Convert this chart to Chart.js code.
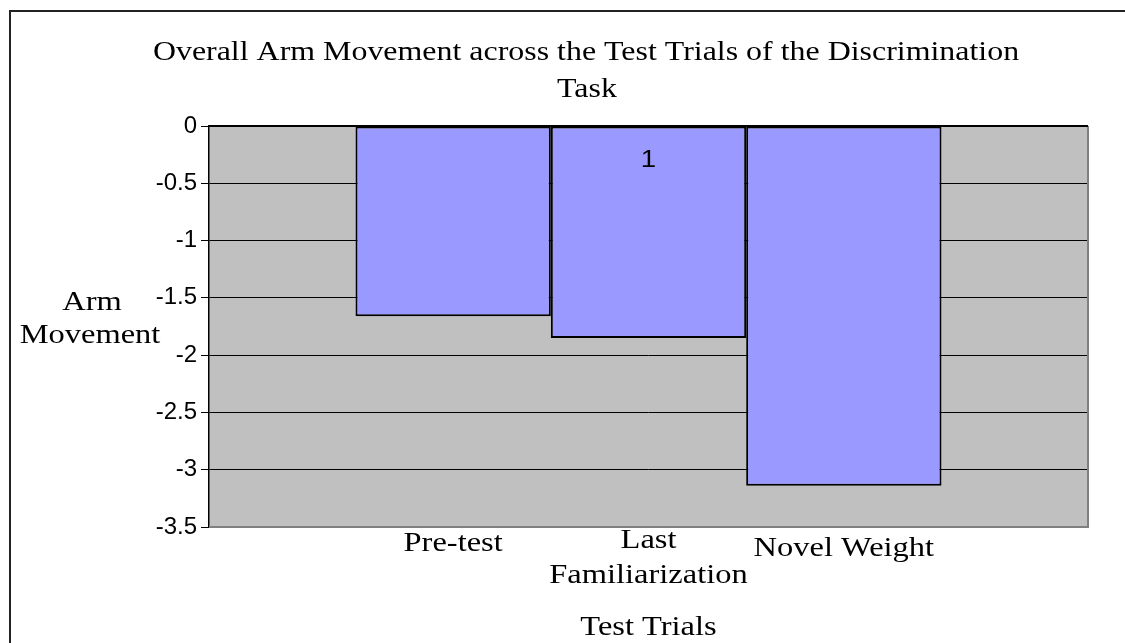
<!DOCTYPE html>
<html>
<head>
<meta charset="utf-8">
<title>Overall Arm Movement</title>
<script src="https://cdn.jsdelivr.net/npm/chart.js@4.4.0/dist/chart.umd.min.js"></script>
<style>
    body { margin: 0; background: #fff; }
    #wrap { width: 1125px; height: 643px; position: relative; }
</style>
</head>
<body>
<div id="wrap"><canvas id="armChart" width="1125" height="643"></canvas></div>
<script>
// data
const categories = ['1'];
const seriesNames = ['Pre-test', 'Last Familiarization', 'Novel Weight'];
const seriesValues = [-1.66, -1.85, -3.14];
const yMin = -3.5;
const yMax = 0;
const yStep = 0.5;

const titleLines = ['Overall Arm Movement across the Test Trials of the Discrimination', 'Task'];
const yTitleLines = ['Arm', 'Movement'];
const xTitle = 'Test Trials';

const serif = '"Liberation Serif", "Times New Roman", serif';
const sans = '"Liberation Sans", Arial, sans-serif';

// draw text slightly widened like the original export
function wideText(ctx, text, x, y, size, sx, family) {
    ctx.save();
    ctx.font = size + 'px ' + (family || serif);
    ctx.fillStyle = '#000';
    ctx.textAlign = 'center';
    ctx.textBaseline = 'alphabetic';
    ctx.translate(x, y);
    ctx.scale(sx, 1);
    ctx.fillText(text, 0, 0);
    ctx.restore();
}

const decorPlugin = {
    id: 'decor',
    beforeDraw(chart) {
        const ctx = chart.ctx;
        const a = chart.chartArea;
        ctx.save();
        ctx.fillStyle = '#fff';
        ctx.fillRect(0, 0, chart.width, chart.height);
        // outer frame (only top and left are visible)
        ctx.strokeStyle = '#222';
        ctx.lineWidth = 2;
        ctx.beginPath();
        ctx.moveTo(chart.width, 11);
        ctx.lineTo(10, 11);
        ctx.lineTo(10, chart.height);
        ctx.stroke();
        // plot area
        ctx.fillStyle = '#C0C0C0';
        ctx.fillRect(a.left, a.top, a.right - a.left, a.bottom - a.top);
        ctx.restore();
    },
    afterDraw(chart) {
        const ctx = chart.ctx;
        const a = chart.chartArea;
        ctx.save();
        ctx.strokeStyle = '#808080';
        ctx.lineWidth = 2;
        ctx.beginPath();
        ctx.moveTo(a.right, a.top);
        ctx.lineTo(a.right, a.bottom);
        ctx.lineTo(a.left, a.bottom);
        ctx.stroke();
        ctx.strokeStyle = '#000';
        ctx.beginPath();
        ctx.moveTo(a.left, a.top);
        ctx.lineTo(a.right, a.top);
        ctx.stroke();
        ctx.restore();

        // title
        wideText(ctx, titleLines[0], 586, 60, 28, 1.14);
        wideText(ctx, titleLines[1], 587, 97, 28, 1.14);

        // y axis title, horizontal
        wideText(ctx, yTitleLines[0], 92, 310, 28, 1.16);
        wideText(ctx, yTitleLines[1], 90, 343, 28, 1.16);

        // category label just under the zero line
        const xs = chart.scales.x;
        wideText(ctx, categories[0], xs.getPixelForValue(0), a.top + 41, 23, 1.2, sans);

        // series names under each bar
        const offsets = [24, 21, 29];
        seriesNames.forEach(function(name, i) {
            const bar = chart.getDatasetMeta(i).data[0];
            const words = name.split(' ');
            const lines = (name.length > 14) ? words : [name];
            lines.forEach(function(line, j) {
                wideText(ctx, line, bar.x, a.bottom + offsets[i] + j * 35, 28, 1.16);
            });
        });

        // x axis title
        wideText(ctx, xTitle, (a.left + a.right) / 2, 635, 28, 1.16);
    }
};

const chartCtx = document.getElementById('armChart').getContext('2d');
const armChart = new Chart(chartCtx, {
    type: 'bar',
    data: {
        labels: categories,
        datasets: seriesNames.map(function(name, i) {
            return {
                label: name,
                data: [seriesValues[i]],
                backgroundColor: '#9999FF',
                borderColor: '#000',
                borderWidth: 2,
                borderSkipped: false,
                categoryPercentage: 1 / 1.5,
                barPercentage: 1
            };
        })
    },
    options: {
        responsive: false,
        animation: false,
        layout: {
            padding: { top: 126, right: 37, bottom: 116, left: 0 }
        },
        plugins: {
            legend: { display: false },
            title: { display: false },
            tooltip: { enabled: false }
        },
        scales: {
            x: {
                display: false
            },
            y: {
                min: yMin,
                max: yMax,
                afterFit: function(scale) {
                    scale.width = 209;
                },
                ticks: {
                    stepSize: yStep,
                    color: '#000',
                    padding: 4,
                    font: { family: sans, size: 24 },
                    callback: function(value) {
                        return String(value);
                    }
                },
                grid: {
                    color: function(c) {
                        return c.tick && c.tick.value === yMin ? '#808080' : '#000';
                    },
                    tickColor: '#000',
                    tickLength: 8,
                    lineWidth: 1
                },
                border: { color: '#000', width: 1.5 }
            }
        }
    },
    plugins: [decorPlugin]
});
</script>
</body>
</html>
